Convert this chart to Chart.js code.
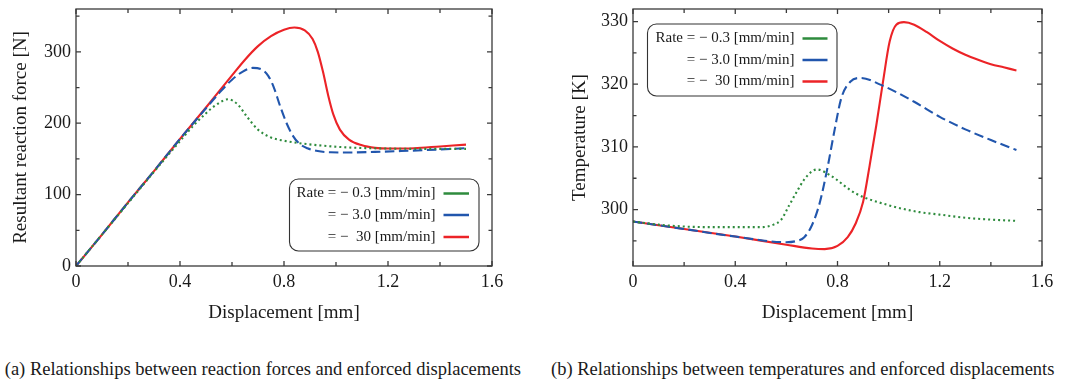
<!DOCTYPE html>
<html><head><meta charset="utf-8">
<script src="https://cdn.jsdelivr.net/npm/chart.js@4.4.1/dist/chart.umd.min.js"></script>
<style>
html,body{margin:0;padding:0;background:#fff;width:1071px;height:386px;overflow:hidden;position:relative;font-family:"Liberation Serif",serif;}
#c1{position:absolute;left:0;top:0;}
#c2{position:absolute;left:557px;top:0;}
.cap{position:absolute;top:358px;font-size:18.5px;white-space:nowrap;color:#1a1a1a;line-height:22px;}
#capA{right:550px;}
#capB{left:551px;}
</style></head>
<body>
<canvas id="c1" width="520" height="330"></canvas>
<canvas id="c2" width="514" height="330"></canvas>
<div class="cap" id="capA">(a) Relationships between reaction forces and enforced displacements</div>
<div class="cap" id="capB">(b) Relationships between temperatures and enforced displacements</div>
<script>
// ---------- data ----------
const legendLabels = ['Rate = \u2212 0.3 [mm/min]', '= \u2212 3.0 [mm/min]', '= \u2212  30 [mm/min]'];

const xTicks = [0, 0.4, 0.8, 1.2, 1.6];
const xMinorTicks = [0.2, 0.6, 1.0, 1.4];

const forceYTicks = [0, 100, 200, 300];
const forceYMinorTicks = [50, 150, 250, 350];
const tempYTicks = [300, 310, 320, 330];
const tempYMinorTicks = [295, 305, 315, 325];

// Force: rate 0.3 (green)
const forceGreenX = [0, 0.1, 0.2, 0.3, 0.4, 0.45, 0.5, 0.54, 0.585, 0.62, 0.66, 0.7, 0.75, 0.8, 0.86, 0.95, 1.05, 1.2, 1.35, 1.5];
const forceGreenY = [0, 44, 88, 132, 175, 196, 214, 226, 233.5, 227, 208, 191, 180, 175.5, 172, 168.5, 166, 164.5, 164, 164];
// Force: rate 3.0 (blue)
const forceBlueX = [0, 0.1, 0.2, 0.3, 0.4, 0.5, 0.55, 0.6, 0.64, 0.68, 0.72, 0.74, 0.76, 0.785, 0.81, 0.835, 0.86, 0.89, 0.93, 0.98, 1.05, 1.15, 1.25, 1.35, 1.5];
const forceBlueY = [0, 44, 89, 133, 178, 221, 242, 261, 272, 277.5, 274, 266, 251, 224, 200, 182, 171, 165, 161, 159.3, 159, 159.8, 161, 162.5, 165];
// Force: rate 30 (red)
const forceRedX = [0, 0.1, 0.2, 0.3, 0.4, 0.5, 0.6, 0.65, 0.7, 0.75, 0.8, 0.84, 0.88, 0.91, 0.93, 0.95, 0.97, 0.99, 1.015, 1.05, 1.1, 1.15, 1.2, 1.3, 1.4, 1.5];
const forceRedY = [0, 44, 89, 133, 178, 222, 267, 289, 308, 322, 331, 334, 330, 318, 300, 272, 239, 212, 191, 177, 169, 165.5, 164.5, 165, 167.5, 170];

// Temperature: rate 0.3 (green)
const tempGreenX = [0, 0.1, 0.2, 0.3, 0.4, 0.5, 0.55, 0.58, 0.61, 0.64, 0.67, 0.7, 0.72, 0.77, 0.87, 1.0, 1.12, 1.2, 1.3, 1.4, 1.5];
const tempGreenY = [298.1, 297.6, 297.3, 297.2, 297.2, 297.2, 297.6, 298.4, 300.6, 302.8, 304.8, 306.1, 306.4, 305.5, 302.6, 300.7, 299.6, 299.2, 298.7, 298.4, 298.2];
// Temperature: rate 3.0 (blue)
const tempBlueX = [0, 0.2, 0.4, 0.6, 0.64, 0.67, 0.7, 0.73, 0.76, 0.79, 0.815, 0.85, 0.89, 0.97, 1.1, 1.2, 1.3, 1.4, 1.5];
const tempBlueY = [298.1, 296.9, 295.7, 294.8, 295.0, 295.6, 297.5, 301.0, 306.5, 313.0, 317.8, 320.4, 321.0, 319.9, 317.2, 314.8, 312.8, 311.1, 309.5];
// Temperature: rate 30 (red)
const tempRedX = [0, 0.2, 0.4, 0.6, 0.7, 0.75, 0.8, 0.84, 0.87, 0.9, 0.926, 0.952, 0.978, 1.004, 1.03, 1.06, 1.1, 1.15, 1.2, 1.25, 1.3, 1.35, 1.4, 1.45, 1.5];
const tempRedY = [298.1, 296.9, 295.7, 294.4, 293.8, 293.7, 294.2, 295.6, 297.7, 301.2, 307.1, 313.5, 320.4, 326.8, 329.5, 329.9, 329.5, 328.3, 326.9, 325.7, 324.7, 323.9, 323.2, 322.7, 322.2];

// ---------- styling ----------
const FONT = '"Liberation Serif", "Times New Roman", serif';
const TXT = '#1a1a1a';
const GREEN = '#2e8b3d', BLUE = '#2156ad', RED = '#ec2327';

const pts = (xs, ys) => xs.map((x, i) => ({x: x, y: ys[i]}));

const frameTicks = {
  id: 'frameTicks',
  afterDatasetsDraw(chart, args, o) {
    const {ctx, chartArea: a} = chart;
    const xs = chart.scales.x, ys = chart.scales.y;
    ctx.save();
    ctx.strokeStyle = '#3a3a3a';
    ctx.lineWidth = 1.3;
    ctx.strokeRect(a.left, a.top, a.right - a.left, a.bottom - a.top);
    ctx.beginPath();
    const xt = (vals, len) => vals.forEach(v => {
      const p = xs.getPixelForValue(v);
      ctx.moveTo(p, a.bottom); ctx.lineTo(p, a.bottom - len);
      ctx.moveTo(p, a.top); ctx.lineTo(p, a.top + len);
    });
    const yt = (vals, len) => vals.forEach(v => {
      const p = ys.getPixelForValue(v);
      ctx.moveTo(a.left, p); ctx.lineTo(a.left + len, p);
      ctx.moveTo(a.right, p); ctx.lineTo(a.right - len, p);
    });
    xt(o.xMajor, 5); xt(o.xMinor, 4);
    yt(o.yMajor, 5); yt(o.yMinor, 3.5);
    ctx.stroke();
    ctx.restore();
  }
};

const boxLegend = {
  id: 'boxLegend',
  afterDraw(chart, args, o) {
    const ctx = chart.ctx;
    ctx.save();
    const x = o.box[0], y = o.box[1], w = o.box[2], h = o.box[3], r = 9;
    ctx.beginPath();
    ctx.moveTo(x + r, y);
    ctx.arcTo(x + w, y, x + w, y + h, r);
    ctx.arcTo(x + w, y + h, x, y + h, r);
    ctx.arcTo(x, y + h, x, y, r);
    ctx.arcTo(x, y, x + w, y, r);
    ctx.closePath();
    ctx.fillStyle = 'rgba(255,255,255,0.9)';
    ctx.fill();
    ctx.strokeStyle = '#333';
    ctx.lineWidth = 1.1;
    ctx.stroke();
    ctx.font = '15px ' + FONT;
    ctx.textAlign = 'right';
    ctx.textBaseline = 'middle';
    chart.data.datasets.forEach((ds, i) => {
      const ry = o.rows[i];
      ctx.fillStyle = TXT;
      ctx.fillText(ds.label, o.textRight, ry);
      ctx.beginPath();
      ctx.setLineDash([]);
      ctx.strokeStyle = ds.borderColor;
      ctx.lineWidth = 2.5;
      ctx.moveTo(o.line[0], ry); ctx.lineTo(o.line[1], ry);
      ctx.stroke();
    });
    ctx.restore();
  }
};

function makeChart(id, cfg) {
  const ds = (label, color, dash, xs, ys) => ({
    label: label, data: pts(xs, ys), borderColor: color, backgroundColor: color,
    borderWidth: 2.1, borderDash: dash, pointRadius: 0, fill: false,
    cubicInterpolationMode: 'monotone', borderCapStyle: 'butt'
  });
  return new Chart(document.getElementById(id), {
    type: 'line',
    data: {
      datasets: [
        ds(legendLabels[0], GREEN, [2, 3], cfg.gx, cfg.gy),
        ds(legendLabels[1], BLUE, [9.5, 4.5], cfg.bx, cfg.by),
        ds(legendLabels[2], RED, [], cfg.rx, cfg.ry)
      ]
    },
    options: {
      responsive: false, animation: false, devicePixelRatio: 1,
      layout: {padding: {left: 0, right: cfg.padRight, top: 9, bottom: 0}},
      plugins: {
        legend: {display: false}, tooltip: {enabled: false},
        frameTicks: {xMajor: xTicks, xMinor: xMinorTicks, yMajor: cfg.yTicks, yMinor: cfg.yMinor},
        boxLegend: cfg.legend
      },
      scales: {
        x: {
          type: 'linear', min: 0, max: 1.6,
          afterBuildTicks: s => { s.ticks = xTicks.map(v => ({value: v})); },
          afterFit: s => { s.height = 64; s.paddingLeft = 0; s.paddingRight = 0; s.paddingTop = 0; s.paddingBottom = 0; },
          grid: {display: false, drawTicks: false},
          border: {display: false},
          ticks: {font: {family: FONT, size: 18}, color: TXT, padding: 5, maxRotation: 0, autoSkip: false,
                  callback: v => String(v)},
          title: {display: true, text: 'Displacement [mm]', font: {family: FONT, size: 19}, color: TXT,
                  padding: {top: 0, bottom: 6}}
        },
        y: {
          type: 'linear', min: cfg.ymin, max: cfg.ymax,
          afterBuildTicks: s => { s.ticks = cfg.yTicks.map(v => ({value: v})); },
          afterFit: s => { s.width = 76; s.paddingTop = 0; s.paddingBottom = 0; s.paddingLeft = 0; s.paddingRight = 0; },
          grid: {display: false, drawTicks: false},
          border: {display: false},
          ticks: {font: {family: FONT, size: 18}, color: TXT, padding: 5, autoSkip: false,
                  callback: v => String(v)},
          title: {display: true, text: cfg.ytitle, font: {family: FONT, size: 19}, color: TXT,
                  padding: {top: cfg.ytitlePad, bottom: 0}}
        }
      }
    },
    plugins: [frameTicks, boxLegend]
  });
}

makeChart('c1', {
  gx: forceGreenX, gy: forceGreenY, bx: forceBlueX, by: forceBlueY, rx: forceRedX, ry: forceRedY,
  ymin: 0, ymax: 360, yTicks: forceYTicks, yMinor: forceYMinorTicks,
  ytitle: 'Resultant reaction force [N]', ytitlePad: 10, padRight: 28,
  legend: {box: [289.5, 179, 189.5, 72], rows: [193.5, 215, 237], textRight: 435.5, line: [443.5, 469]}
});

makeChart('c2', {
  gx: tempGreenX, gy: tempGreenY, bx: tempBlueX, by: tempBlueY, rx: tempRedX, ry: tempRedY,
  ymin: 291, ymax: 332, yTicks: tempYTicks, yMinor: tempYMinorTicks,
  ytitle: 'Temperature [K]', ytitlePad: 11.5, padRight: 29,
  legend: {box: [90.5, 24, 189.5, 72], rows: [38.5, 60, 81.5], textRight: 237.5, line: [245.5, 270.5]}
});
</script>
</body></html>
